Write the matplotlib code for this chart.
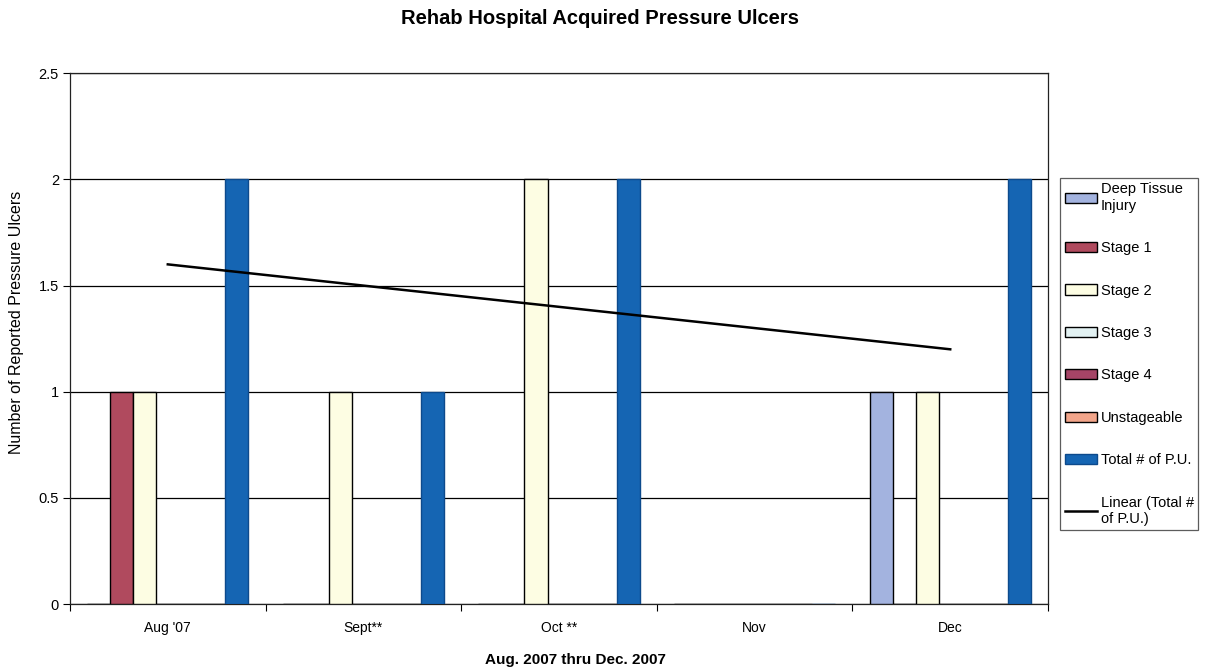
import matplotlib.pyplot as plt
import numpy as np

plt.rcParams['font.family'] = ['Liberation Sans', 'DejaVu Sans']

months = ["Aug '07", "Sept**", "Oct **", "Nov", "Dec"]
series = ['Deep Tissue\nInjury', 'Stage 1', 'Stage 2', 'Stage 3', 'Stage 4',
          'Unstageable', 'Total # of P.U.']
deep_tissue = [0, 0, 0, 0, 1]
stage1 = [1, 0, 0, 0, 0]
stage2 = [1, 1, 2, 0, 1]
stage3 = [0, 0, 0, 0, 0]
stage4 = [0, 0, 0, 0, 0]
unstageable = [0, 0, 0, 0, 0]
total_pu = [2, 1, 2, 0, 2]

colors = ['#a3b3df', '#b04a5e', '#fdfde3', '#e2f1f2', '#a54466', '#f2a58a', '#1565b3']
edges = ['black'] * 6 + ['#0d4a8c']

fig = plt.figure(figsize=(12.13, 6.72), dpi=100)
ax = fig.add_axes([0.0577, 0.101, 0.8063, 0.790])

x = np.arange(len(months))
w = 1 / 8.5  # 150% gap between category groups
values = [deep_tissue, stage1, stage2, stage3, stage4, unstageable, total_pu]
handles = []
for i, vals in enumerate(values):
    off = (i - 3) * w
    b = ax.bar(x + off, vals, w, color=colors[i], edgecolor=edges[i],
               linewidth=1.0, label=series[i], zorder=3)
    handles.append(b)

# linear trend of the totals
k, c = np.polyfit(x, total_pu, 1)
ln, = ax.plot(x, k * x + c, color='black', lw=1.8, zorder=4,
              label='Linear (Total #\nof P.U.)')
handles.append(ln)

ax.set_xlim(-0.5, 4.5)
ax.set_ylim(0, 2.5)
ax.set_yticks([0, 0.5, 1, 1.5, 2, 2.5])
ax.set_yticklabels(['0', '0.5', '1', '1.5', '2', '2.5'])
ax.yaxis.grid(True, color='black', lw=0.9, zorder=0)
ax.set_axisbelow(True)

ax.set_xticks(x)
ax.set_xticklabels(months)
ax.set_xticks(np.arange(-0.5, 5, 1), minor=True)
ax.tick_params(axis='x', which='major', length=0, pad=12, labelsize=10)
ax.tick_params(axis='x', which='minor', length=5, width=0.8, direction='out')
ax.tick_params(axis='y', length=5, width=0.8, labelsize=10.5, pad=3)
for s in ax.spines.values():
    s.set_linewidth(0.9)
    s.set_color('#222222')

ax.set_ylabel('Number of Reported Pressure Ulcers', fontsize=11.5)
ax.yaxis.set_label_coords(-0.047, 0.53)
ax.set_xlabel('Aug. 2007 thru Dec. 2007', fontsize=11, fontweight='bold')
ax.xaxis.set_label_coords(0.517, -0.093)
fig.text(0.495, 0.972, 'Rehab Hospital Acquired Pressure Ulcers', ha='center', va='center',
         fontsize=14.5, fontweight='bold')

leg = fig.legend(handles=handles, loc='upper left', bbox_to_anchor=(0.874, 0.735),
                 fontsize=10.5, frameon=True, fancybox=False, edgecolor='#333333',
                 handlelength=2.2, handleheight=0.7, labelspacing=1.95,
                 borderpad=0.3, handletextpad=0.3, borderaxespad=0)
leg.get_frame().set_linewidth(0.9)

fig.savefig('out.png', dpi=100)
